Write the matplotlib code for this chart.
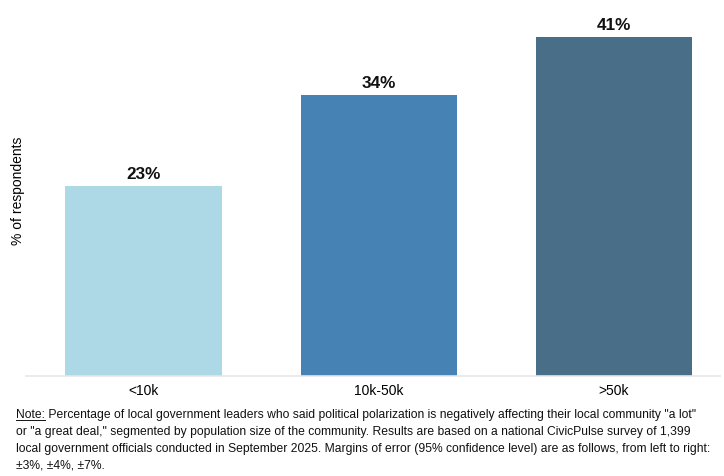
import matplotlib
matplotlib.use('Agg')
import matplotlib.pyplot as plt

plt.rcParams['font.family'] = ['Liberation Sans', 'DejaVu Sans']

# Data
categories = ['<10k', '10k-50k', '>50k']
values = [23, 34, 41]
colors = ['#ADD8E6', '#4682B4', '#486E88']

note_lines = [
    ' Percentage of local government leaders who said political polarization is negatively affecting their local community "a lot"',
    'or "a great deal," segmented by population size of the community. Results are based on a national CivicPulse survey of 1,399',
    'local government officials conducted in September 2025. Margins of error (95% confidence level) are as follows, from left to right:',
    '±3%, ±4%, ±7%.',
]

fig = plt.figure(figsize=(7.24, 4.76), dpi=100)
ax = fig.add_axes([0.036, 0.21, 0.958, 0.77])

x = range(len(categories))
bars = ax.bar(x, values, width=0.665, color=colors)

for b, v in zip(bars, values):
    ax.text(b.get_x() + b.get_width() / 2, v + 0.5, f'{v}%', ha='center', va='bottom',
            fontsize=12.3, fontweight='bold', color='#111111')

ax.set_xlim(-0.5, 2.45)
ax.set_ylim(0, 44.3)
ax.set_xticks(list(x))
ax.set_xticklabels(categories, fontsize=10)
ax.tick_params(axis='x', length=0, pad=6)
ax.set_yticks([])
for s in ['top', 'right', 'left']:
    ax.spines[s].set_visible(False)
ax.spines['bottom'].set_color('#e6e6e6')
ax.spines['bottom'].set_linewidth(1.2)

fig.text(0.025, 0.60, '% of respondents', rotation=90, ha='center', va='center', fontsize=10)

# note below the chart
note_font = dict(fontsize=8.7, color='#111111', va='baseline', ha='left')
x0 = 16 / 724
base_y = [1 - 418 / 476, 1 - 435 / 476, 1 - 452 / 476, 1 - 469 / 476]
t_note = fig.text(x0, base_y[0], 'Note:', **note_font)
fig.canvas.draw()
bb = t_note.get_window_extent().transformed(fig.transFigure.inverted())
fig.text(bb.x1, base_y[0], note_lines[0], **note_font)
fig.add_artist(plt.Line2D([bb.x0, bb.x1], [base_y[0] - 0.004, base_y[0] - 0.004], color='#111111', linewidth=0.7))
for ln, yy in zip(note_lines[1:], base_y[1:]):
    fig.text(x0, yy, ln, **note_font)

fig.savefig('out.png', dpi=100)
